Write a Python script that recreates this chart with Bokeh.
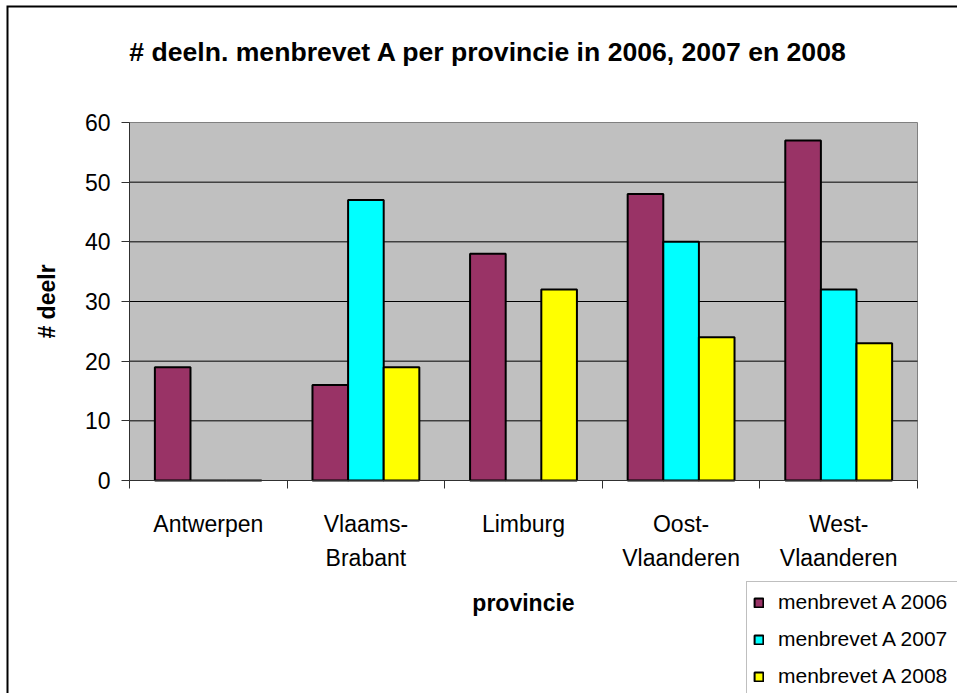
import math
from bokeh.plotting import figure
from bokeh.models import (Range1d, FixedTicker, Label, Legend, LegendItem, ColumnDataSource,
                          LinearAxis)
from bokeh.embed import file_html
from bokeh.resources import INLINE

# ---- data ----
provinces = ["Antwerpen", "Vlaams-Brabant", "Limburg", "Oost-Vlaanderen", "West-Vlaanderen"]
label_line1 = ["Antwerpen", "Vlaams-", "Limburg", "Oost-", "West-"]
label_line2 = ["", "Brabant", "", "Vlaanderen", "Vlaanderen"]
series_names = ["menbrevet A 2006", "menbrevet A 2007", "menbrevet A 2008"]
vals_2006 = [19, 16, 38, 48, 57]
vals_2007 = [0, 47, 0, 40, 32]
vals_2008 = [0, 19, 32, 24, 23]
y_ticks = [0, 10, 20, 30, 40, 50, 60]

title_text = "# deeln. menbrevet A per provincie in 2006, 2007 en 2008"
x_title = "provincie"
y_title = "# deelr"

colors = ["#993366", "#00FFFF", "#FFFF00"]

# ---- layout (pixels of the 957x693 canvas) ----
W, H = 957, 693
AX_L, AX_R, AX_T, AX_B = 129, 917, 122, 480   # plot area in pixels
n = len(provinces)
ymax = 60
px_x = (AX_R - AX_L) / n
px_y = (AX_B - AX_T) / ymax

def X(px):   # canvas pixel x -> data x
    return (px - AX_L) / px_x

def Y(py):   # canvas pixel y (from top) -> data y
    return (AX_B - py) / px_y

FONT = "Liberation Sans"

p = figure(width=W, height=H, output_backend="svg", toolbar_location=None,
           x_range=Range1d(X(0), X(W)), y_range=Range1d(Y(H), Y(0)),
           x_axis_location=None, y_axis_location=None,
           min_border=0, min_border_left=0, min_border_right=0,
           min_border_top=0, min_border_bottom=0,
           background_fill_color="white", border_fill_color="white",
           outline_line_color=None)
p.xgrid.visible = False
p.ygrid.visible = False

# outer chart border (left and top edges; the rest lies outside the picture)
p.line(x=[X(7), X(7), X(W + 20)], y=[Y(H + 20), Y(6), Y(6)],
       line_color="black", line_width=2, line_join="miter")

# plot area
p.quad(left=[0], right=[n], bottom=[0], top=[ymax], fill_color="#C0C0C0",
       line_color="#808080", line_width=1)

# grid lines
gy = [t for t in y_ticks if 0 < t < ymax]
p.segment(x0=[0] * len(gy), x1=[n] * len(gy), y0=gy, y1=gy, line_color="black", line_width=1)

# bars
bw = 0.226
offsets = [-bw, 0.0, bw]
renderers = []
for vals, off, col in zip([vals_2006, vals_2007, vals_2008], offsets, colors):
    src = ColumnDataSource(dict(x=[i + 0.5 + off for i in range(n)], top=vals))
    r = p.vbar(x="x", top="top", bottom=0, width=bw, source=src,
               fill_color=col, line_color="black", line_width=2)
    renderers.append(r)

# axes
yaxis = LinearAxis(fixed_location=0, bounds=(0, ymax), ticker=FixedTicker(ticks=y_ticks))
yaxis.major_tick_out = 8
yaxis.major_tick_in = 0
yaxis.minor_tick_out = 0
yaxis.minor_tick_in = 0
yaxis.major_label_standoff = 11
yaxis.major_label_text_font = FONT
yaxis.major_label_text_font_size = "23px"
yaxis.major_label_text_color = "black"
yaxis.axis_line_color = "#303030"
yaxis.major_tick_line_color = "#303030"
p.add_layout(yaxis, "left")

xaxis = LinearAxis(fixed_location=0, bounds=(0, n), ticker=FixedTicker(ticks=list(range(n + 1))))
xaxis.major_label_overrides = {i: "" for i in range(n + 1)}
xaxis.major_tick_out = 8
xaxis.major_tick_in = 0
xaxis.minor_tick_out = 0
xaxis.minor_tick_in = 0
xaxis.axis_line_color = "#303030"
xaxis.major_tick_line_color = "#303030"
p.add_layout(xaxis, "below")

# category labels
for i, (l1, l2) in enumerate(zip(label_line1, label_line2)):
    p.add_layout(Label(x=i + 0.5, y=Y(523), text=l1, text_align="center",
                       text_baseline="alphabetic", text_font=FONT,
                       text_font_size="23px", text_color="black"))
    if l2:
        p.add_layout(Label(x=i + 0.5, y=Y(557), text=l2, text_align="center",
                           text_baseline="alphabetic", text_font=FONT,
                           text_font_size="23px", text_color="black"))

# title
p.add_layout(Label(x=X(488), y=Y(51), text=title_text,
                   text_align="center", text_baseline="alphabetic", text_font=FONT,
                   text_font_size="26.6px", text_font_style="bold", text_color="black"))
# x axis title
p.add_layout(Label(x=X(523), y=Y(602), text=x_title,
                   text_align="center", text_baseline="alphabetic", text_font=FONT,
                   text_font_size="23px", text_font_style="bold", text_color="black"))
# y axis title
p.add_layout(Label(x=X(46), y=Y(301), text=y_title, angle=math.pi / 2,
                   text_align="center", text_baseline="middle", text_font=FONT,
                   text_font_size="23px", text_font_style="bold", text_color="black"))

# legend
pad, item_h, gap = 6, 28, 9
legend_h = 2 * pad + 3 * item_h + 2 * gap
legend = Legend(items=[LegendItem(label=nm, renderers=[r]) for nm, r in zip(series_names, renderers)],
                location=(746, H - 583 - legend_h),
                orientation="vertical", margin=0, padding=pad, spacing=gap,
                glyph_width=11, glyph_height=11, label_height=item_h, label_width=250,
                label_standoff=14, label_text_font=FONT, label_text_font_size="21px",
                label_text_color="black", border_line_color="#808080", border_line_width=1,
                background_fill_color="white", background_fill_alpha=1.0)
p.add_layout(legend, "center")

open("out.html", "w").write(file_html(p, INLINE))
